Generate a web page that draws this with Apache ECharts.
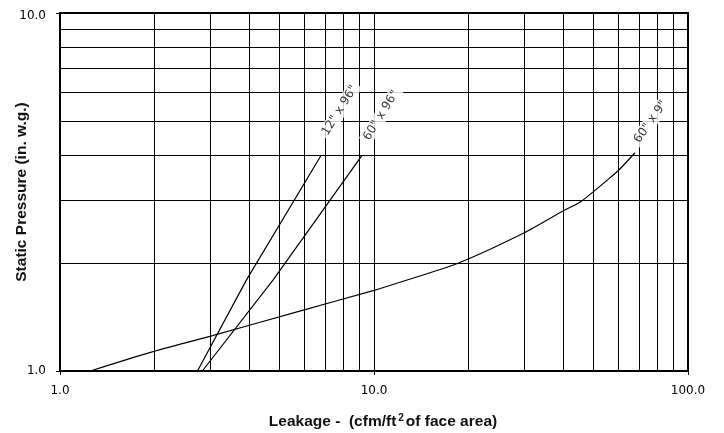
<!DOCTYPE html>
<html><head><meta charset="utf-8">
<script src="https://cdn.jsdelivr.net/npm/echarts@6/dist/echarts.min.js"></script>
<style>html,body{margin:0;padding:0;background:#fff}#c{width:724px;height:433px}</style>
</head><body><div id="c"></div>
<script>
const curveNames = ['12" x 96"', '60" x 96"', '60" x 9"'];
const curve12x96 = [[2.74,1],[3.93,1.8],[6.78,4]];
const curve60x96 = [[2.84,1],[4.78,1.8],[9.16,4]];
const curve60x9 = [[1.25,1],[1.93,1.125],[3,1.25],[5.8,1.47],[10,1.68],[12.1,1.77],[18.5,2],[30,2.43],[40,2.8],[45,2.95],[50,3.17],[55,3.4],[60,3.63],[67.8,4.07]];
const xGridValues = [2,3,4,5,6,7,8,9,10,20,30,40,50,60,70,80,90];
const yGridValues = [2,3,4,5,6,7,8,9];
const xTitle = '{a|Leakage -  (cfm/ft}{s|2}{a|of face area)}';
const yTitle = 'Static Pressure (in. w.g.)';

const curves = [curve12x96, curve60x96, curve60x9];
const labelRot = [58, 58, 55];
const labelOff = [[17,-8],[13,-5],[7,-5]];

const chart = echarts.init(document.getElementById('c'), null, {renderer:'canvas'});
const series = [];
series.push({
  type:'line', data:[], silent:true, z:1,
  markLine:{
    silent:true, symbol:['none','none'], animation:false,
    label:{show:false},
    lineStyle:{type:'solid', color:'#000', width:1},
    data: xGridValues.map(v=>({xAxis:v})).concat(yGridValues.map(v=>({yAxis:v})))
  }
});
curves.forEach((c,i)=>{
  series.push({
    type:'line', name:curveNames[i], data:c, showSymbol:false, symbol:'none',
    smooth: i===2 ? 0.25 : false, z:3,
    lineStyle:{color:'#000', width:1.2}
  });
  series.push({
    type:'scatter', data:[c[c.length-1]], symbolSize:0.1, z:5, silent:true,
    itemStyle:{color:'rgba(0,0,0,0)'},
    label:{
      show:true, formatter:curveNames[i], position:'right', distance:0,
      rotate:labelRot[i], offset:labelOff[i], align:'left', verticalAlign:'middle',
      fontFamily:'DejaVu Sans', fontSize:12, color:'#000',
      backgroundColor:'#fff', padding:[1,3]
    }
  });
});

chart.setOption({
  animation:false,
  backgroundColor:'#fff',
  grid:{left:60, right:36, top:13, bottom:62, containLabel:false, outerBoundsMode:'none',
        show:true, borderColor:'#000', borderWidth:2, backgroundColor:'transparent'},
  xAxis:{
    type:'log', logBase:10, min:1, max:100,
    axisLine:{show:true, lineStyle:{color:'#000', width:2}},
    axisTick:{show:true, length:4, lineStyle:{color:'#000', width:1}},
    splitLine:{show:false}, minorTick:{show:false},
    axisLabel:{formatter:v=>Number(v).toFixed(1), fontFamily:'DejaVu Sans', fontSize:12, color:'#000', margin:14},
    name:xTitle, nameLocation:'middle', nameGap:42, nameMoveOverlap:false,
    nameTextStyle:{padding:[0,0,0,18], rich:{
      a:{fontFamily:'Liberation Sans', fontWeight:'bold', fontSize:15.5, color:'#111', lineHeight:18},
      s:{fontFamily:'Liberation Sans', fontWeight:'bold', fontSize:10, color:'#111', verticalAlign:'top', lineHeight:10, padding:[0,2,0,2]}
    }}
  },
  yAxis:{
    type:'log', logBase:10, min:1, max:10,
    axisLine:{show:true, lineStyle:{color:'#000', width:2}},
    axisTick:{show:true, length:4, lineStyle:{color:'#000', width:1}},
    splitLine:{show:false}, minorTick:{show:false},
    axisLabel:{
      formatter:v=>(Number(v) >= 10 ? '{t|' + Number(v).toFixed(1) + '}' : Number(v).toFixed(1)),
      fontFamily:'DejaVu Sans', fontSize:12, color:'#000', margin:14,
      rich:{t:{fontFamily:'DejaVu Sans', fontSize:12, color:'#000', padding:[6,0,0,0]}}
    },
    name:yTitle, nameLocation:'middle', nameGap:30, nameMoveOverlap:false,
    nameTextStyle:{fontFamily:'Liberation Sans', fontWeight:'bold', fontSize:15.5, color:'#111'}
  },
  series:series
});
</script></body></html>
